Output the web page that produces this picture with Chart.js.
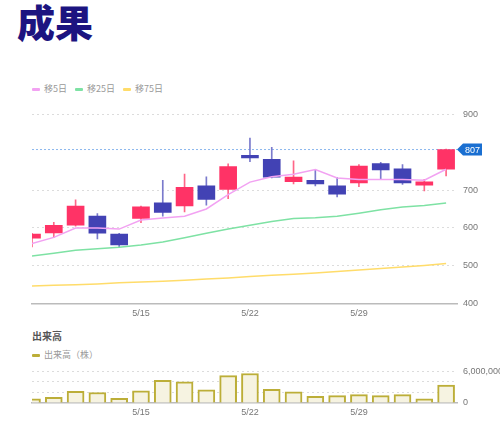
<!DOCTYPE html>
<html lang="ja">
<head>
<meta charset="utf-8">
<script src="https://cdn.jsdelivr.net/npm/chart.js@4.4.1/dist/chart.umd.min.js"></script>
<style>
  body { margin: 0; width: 500px; height: 433px; background: #fff; position: relative; overflow: hidden; font-family: 'Noto Sans CJK JP', sans-serif; }
  h1 { position: absolute; left: 17px; top: 2px; margin: 0; font-size: 38px; line-height: 38px; font-weight: 900; color: #1c1480; }
  .legend { position: absolute; left: 32px; height: 12px; font-size: 9px; line-height: 12px; color: #999; display: flex; align-items: center; white-space: nowrap; }
  .legend .mk { display: inline-block; width: 8px; height: 3px; border-radius: 1px; margin-right: 4px; }
  .legend .tx { margin-right: 8px; }
  .sub { position: absolute; left: 32px; top: 330px; font-size: 10px; line-height: 12px; color: #555; font-weight: 700; }
  canvas { position: absolute; left: 0; }
</style>
</head>
<body>
<h1>成果</h1>
<div class="legend" id="lg1" style="top:83px"></div>
<canvas id="c1" width="500" height="225" style="top:100px"></canvas>
<div class="sub">出来高</div>
<div class="legend" id="lg2" style="top:349px"></div>
<canvas id="c2" width="500" height="62" style="top:360px"></canvas>
<script>
// 日付 (営業日)
const dates = ['5/8','5/9','5/10','5/11','5/12','5/15','5/16','5/17','5/18','5/19',
               '5/22','5/23','5/24','5/25','5/26','5/29','5/30','5/31','6/1','6/2'];
// x軸に出すラベル
const xTicks = ['5/15', '5/22', '5/29'];

// 四本値
const opens  = [573, 587, 607, 631, 584, 625, 666, 658, 711, 702, 792, 781, 722, 726, 711, 719, 770, 756, 713, 755];
const highs  = [586, 615, 674, 638, 586, 658, 726, 742, 735, 769, 837, 813, 777, 755, 733, 767, 773, 767, 728, 808];
const lows   = [550, 575, 605, 571, 549, 614, 631, 642, 660, 677, 775, 732, 716, 711, 682, 709, 728, 715, 698, 737];
const closes = [584, 607, 658, 586, 555, 656, 641, 707, 675, 762, 785, 734, 734, 716, 689, 763, 753, 719, 722, 807];

// 移動平均
const ma5  = [559, 575, 600, 600, 597, 621, 626, 631, 650, 688, 721, 735, 742, 754, 732, 728, 728, 728, 726, 755];
const ma25 = [526, 533, 541, 545, 549, 555, 563, 574, 586, 597, 607, 617, 625, 627, 631, 639, 648, 655, 659, 666];
const ma75 = [447, 449, 450, 452, 455, 457, 459, 462, 465, 468, 472, 475, 478, 481, 485, 489, 493, 497, 501, 506];

// 出来高 (株)
const volumes = [770000, 1100000, 2200000, 2000000, 900000, 2300000, 4300000, 4000000, 2500000, 5200000,
                 5600000, 2600000, 2100000, 1250000, 1400000, 1600000, 1400000, 1600000, 770000, 3400000];

// y軸の目盛り
const priceTicks = [400, 500, 600, 700, 800, 900];
const volTicks = [0, 2000000, 4000000, 6000000];

const upColor = '#ff3366';
const downColor = '#4242b4';
const upWick = '#ff6688';
const downWick = '#7a7acc';

Chart.defaults.font.family = "'Liberation Sans', 'Noto Sans CJK JP', sans-serif";
Chart.defaults.font.size = 9;
Chart.defaults.color = '#777';

const xy = arr => arr.map((v, i) => ({x: i, y: v}));
const isUp = i => closes[i] >= opens[i];

// x軸 (両チャート共通)
function xScale(h) {
    return {
        type: 'linear',
        offset: false,
        min: 0,
        max: 19.5,
        afterBuildTicks: s => { s.ticks = xTicks.map(t => ({value: dates.indexOf(t)})); },
        ticks: { callback: v => dates[v], padding: 4, maxRotation: 0, autoSkip: false },
        grid: { display: false, drawTicks: false, offset: false },
        border: { color: '#bbb', width: 1.5 },
        afterFit: s => { s.height = h; }
    };
}

// 最終値のライン＋タグ
const lastPricePlugin = {
    id: 'lastPrice',
    beforeDatasetsDraw(chart) {
        const {ctx, chartArea, scales} = chart;
        const y = scales.y.getPixelForValue(closes[closes.length - 1]);
        ctx.save();
        ctx.strokeStyle = '#8cb8ee';
        ctx.lineWidth = 1;
        ctx.setLineDash([2, 2]);
        ctx.beginPath();
        ctx.moveTo(chartArea.left, y);
        ctx.lineTo(chartArea.right, y);
        ctx.stroke();
        ctx.restore();
    },
    afterDraw(chart) {
        const {ctx, chartArea, scales} = chart;
        const last = closes[closes.length - 1];
        const y = scales.y.getPixelForValue(last);
        const x0 = chartArea.right;
        ctx.save();
        ctx.fillStyle = '#1a6fd1';
        ctx.beginPath();
        ctx.moveTo(x0, y);
        ctx.lineTo(x0 + 6, y - 6);
        ctx.lineTo(x0 + 25, y - 6);
        ctx.lineTo(x0 + 25, y + 6);
        ctx.lineTo(x0 + 6, y + 6);
        ctx.closePath();
        ctx.fill();
        ctx.fillStyle = '#fff';
        ctx.font = "9px 'Liberation Sans'";
        ctx.textAlign = 'center';
        ctx.textBaseline = 'middle';
        ctx.fillText(String(last), x0 + 15.5, y + 0.5);
        ctx.restore();
    }
};

//ローソク足チャート
const chart1 = new Chart(document.getElementById('c1'), {
    type: 'bar',
    data: {
        datasets: [
            { type: 'line', label: '移5日', data: xy(ma5), borderColor: '#f2a2f2', backgroundColor: '#f2a2f2', borderWidth: 1.5, pointRadius: 0, order: 0 },
            { type: 'line', label: '移25日', data: xy(ma25), borderColor: '#7ee2a4', backgroundColor: '#7ee2a4', borderWidth: 1.5, pointRadius: 0, order: 0 },
            { type: 'line', label: '移75日', data: xy(ma75), borderColor: '#ffdc6a', backgroundColor: '#ffdc6a', borderWidth: 1.5, pointRadius: 0, order: 0 },
            {
                label: 'body',
                data: opens.map((o, i) => ({x: i, y: [o, closes[i]]})),
                backgroundColor: c => isUp(c.dataIndex) ? upColor : downColor,
                barThickness: 17,
                grouped: false,
                clip: 0,
                order: 1
            },
            {
                label: 'wick',
                data: lows.map((l, i) => ({x: i, y: [l, highs[i]]})),
                backgroundColor: c => isUp(c.dataIndex) ? upWick : downWick,
                barThickness: 1,
                grouped: false,
                clip: 0,
                order: 2
            }
        ]
    },
    options: {
        responsive: false,
        animation: false,
        devicePixelRatio: 1,
        layout: { padding: { left: 32, right: 0, top: 14.3, bottom: 0 } },
        plugins: { legend: { display: false }, tooltip: { enabled: false } },
        scales: {
            x: xScale(21.3),
            y: {
                position: 'right',
                min: 400,
                max: 900,
                afterBuildTicks: s => { s.ticks = priceTicks.map(v => ({value: v})); },
                // 800は最終値タグと重なるので出さない
                ticks: { callback: v => v === 800 ? '' : v, padding: 6, autoSkip: false },
                grid: { color: c => (c.tick.value === 400 || c.tick.value === 800) ? 'rgba(0,0,0,0)' : '#dcdcdc', drawTicks: false },
                border: { display: false, dash: [2, 3] },
                afterFit: s => { s.width = 43; }
            }
        }
    },
    plugins: [lastPricePlugin]
});

//出来高チャート
const chart2 = new Chart(document.getElementById('c2'), {
    type: 'bar',
    data: {
        datasets: [{
            label: '出来高（株）',
            data: xy(volumes),
            backgroundColor: '#f6f3e1',
            borderColor: '#bcae38',
            borderWidth: 2,
            barThickness: 17,
            clip: 0
        }]
    },
    options: {
        responsive: false,
        animation: false,
        devicePixelRatio: 1,
        layout: { padding: { left: 32, right: 0, top: 9.3, bottom: 0 } },
        plugins: { legend: { display: false }, tooltip: { enabled: false } },
        scales: {
            x: xScale(19),
            y: {
                position: 'right',
                min: 0,
                max: 6000000,
                afterBuildTicks: s => { s.ticks = volTicks.map(v => ({value: v})); },
                ticks: { callback: v => (v === 0 || v === 6000000) ? v.toLocaleString('ja-JP') : '', padding: 6, autoSkip: false },
                grid: { color: c => c.tick.value === 0 ? 'rgba(0,0,0,0)' : '#dcdcdc', drawTicks: false },
                border: { display: false, dash: [2, 3] },
                afterFit: s => { s.width = 43; }
            }
        }
    }
});

// 凡例 (HTML)
function makeLegend(el, datasets) {
    datasets.forEach(ds => {
        const mk = document.createElement('span');
        mk.className = 'mk';
        mk.style.background = ds.borderColor;
        const tx = document.createElement('span');
        tx.className = 'tx';
        tx.textContent = ds.label;
        el.appendChild(mk);
        el.appendChild(tx);
    });
}
makeLegend(document.getElementById('lg1'), chart1.data.datasets.filter(d => d.type === 'line'));
makeLegend(document.getElementById('lg2'), chart2.data.datasets);
</script>
</body>
</html>
